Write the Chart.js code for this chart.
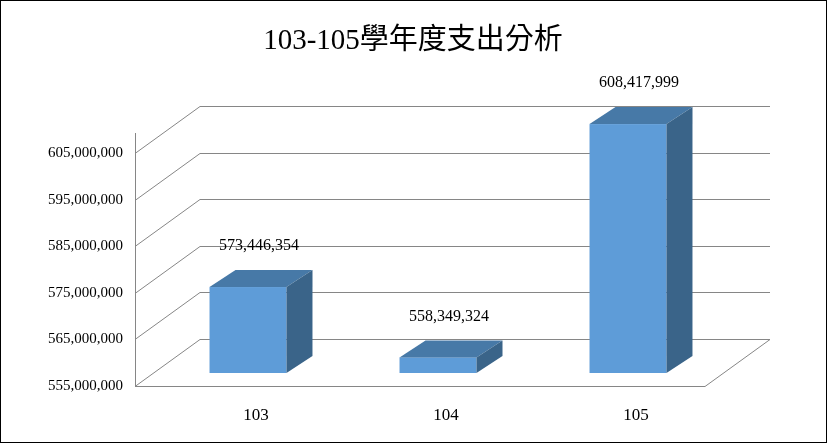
<!DOCTYPE html>
<html><head><meta charset="utf-8">
<script src="https://cdn.jsdelivr.net/npm/chart.js@4"></script>
<style>html,body{margin:0;padding:0;background:#fff}#wrap{width:827px;height:443px}</style>
</head><body>
<div id="wrap"><canvas id="c"></canvas></div>
<script>
const titleText = '103-105學年度支出分析';
const categories = ['103', '104', '105'];
const expenses = [573446354, 558349324, 608417999];
const yTicks = [555000000, 565000000, 575000000, 585000000, 595000000, 605000000];

const SERIF = '"Liberation Serif", "Noto Sans CJK TC", serif';
const WALL = { dx: 65, dy: -47 };     // depth of the back wall
const BAR_OFF = { dx: 18, dy: -13 };  // bars sit part-way into the box
const BAR_D = { dx: 26, dy: -17 };    // bar depth
const fmt = v => v.toLocaleString('en-US');

const box3d = {
  id: 'box3d',
  beforeDatasetsDraw(chart) {
    const { ctx, chartArea: a, scales: { y } } = chart;
    ctx.save();
    ctx.strokeStyle = '#868686';
    ctx.lineWidth = 1;
    yTicks.forEach(v => {
      const py = Math.round(y.getPixelForValue(v)) + 0.5;
      ctx.beginPath();
      ctx.moveTo(a.left, py);
      ctx.lineTo(a.left + WALL.dx, py + WALL.dy);
      ctx.lineTo(a.right + WALL.dx, py + WALL.dy);
      ctx.stroke();
    });
    const b = Math.round(y.getPixelForValue(yTicks[0])) + 0.5;
    ctx.beginPath();
    ctx.moveTo(a.left, b);
    ctx.lineTo(a.right, b);
    ctx.lineTo(a.right + WALL.dx, b + WALL.dy);
    ctx.stroke();
    const t = Math.round(y.getPixelForValue(yTicks[yTicks.length - 1]));
    ctx.beginPath();
    ctx.moveTo(a.left + 0.5, t - 20);
    ctx.lineTo(a.left + 0.5, b);
    ctx.stroke();
    ctx.restore();
  },
  afterDatasetsDraw(chart) {
    const { ctx, scales: { y } } = chart;
    const base = y.getPixelForValue(yTicks[0]);
    ctx.save();
    chart.getDatasetMeta(0).data.forEach((bar, i) => {
      const w = bar.width;
      const x0 = bar.x - w / 2 + BAR_OFF.dx, x1 = x0 + w;
      const top = bar.y + BAR_OFF.dy, bot = base + BAR_OFF.dy;
      ctx.fillStyle = '#5e9cd8';
      ctx.fillRect(x0, top, w, bot - top);
      ctx.fillStyle = '#4779a7';
      ctx.beginPath();
      ctx.moveTo(x0, top); ctx.lineTo(x0 + BAR_D.dx, top + BAR_D.dy);
      ctx.lineTo(x1 + BAR_D.dx, top + BAR_D.dy); ctx.lineTo(x1, top);
      ctx.closePath(); ctx.fill();
      ctx.fillStyle = '#3a6489';
      ctx.beginPath();
      ctx.moveTo(x1, top); ctx.lineTo(x1 + BAR_D.dx, top + BAR_D.dy);
      ctx.lineTo(x1 + BAR_D.dx, bot + BAR_D.dy); ctx.lineTo(x1, bot);
      ctx.closePath(); ctx.fill();
      ctx.fillStyle = '#000';
      ctx.font = '16px ' + SERIF;
      ctx.textAlign = 'center';
      ctx.textBaseline = 'bottom';
      ctx.fillText(fmt(expenses[i]), bar.x + BAR_OFF.dx + 11, top + BAR_D.dy - 16);
      ctx.textBaseline = 'middle';
      ctx.font = '17px ' + SERIF;
      ctx.fillText(categories[i], bar.x + BAR_OFF.dx + 8, 416);
    });
    ctx.font = '29px ' + SERIF;
    ctx.textAlign = 'center';
    ctx.textBaseline = 'middle';
    ctx.fillText(titleText, 413, 41);
    ctx.strokeStyle = '#000';
    ctx.strokeRect(0.5, 0.5, chart.width - 1, chart.height - 1);
    ctx.restore();
  }
};

new Chart(document.getElementById('c'), {
  type: 'bar',
  data: {
    labels: categories,
    datasets: [{ data: expenses, backgroundColor: 'rgba(0,0,0,0)', barPercentage: 0.405, categoryPercentage: 1 }]
  },
  options: {
    responsive: true, maintainAspectRatio: false, animation: false,
    layout: { padding: { top: 153, right: 122, bottom: 57, left: 0 } },
    plugins: { legend: { display: false }, tooltip: { enabled: false } },
    scales: {
      x: { display: false },
      y: {
        min: yTicks[0], max: yTicks[yTicks.length - 1],
        afterBuildTicks: s => { s.ticks = yTicks.map(v => ({ value: v })); },
        afterFit: s => { s.width = 135; },
        grid: { display: false }, border: { display: false },
        ticks: { color: '#000', padding: 4, font: { family: SERIF, size: 15 }, callback: v => fmt(v) }
      }
    }
  },
  plugins: [box3d]
});
</script>
</body></html>
